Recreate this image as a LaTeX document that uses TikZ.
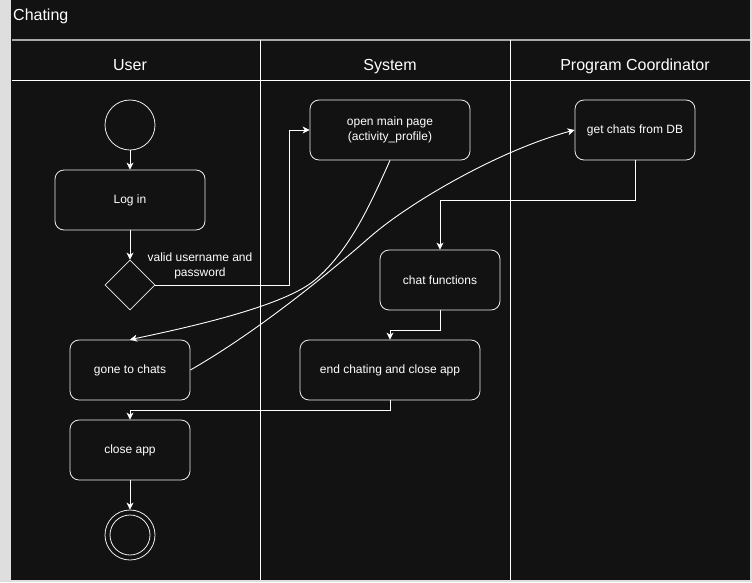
\documentclass[tikz,border=0pt]{standalone}
\usepackage{fontspec}
\setmainfont{Liberation Sans}
\usepackage{xcolor}
\usepackage{tikz}
\usetikzlibrary{arrows.meta,shapes.geometric}

\definecolor{canvas}{HTML}{121212}
\definecolor{margin}{HTML}{DEDEDE}
\definecolor{ink}{HTML}{EDEDED}
\definecolor{seam}{HTML}{A8A8A8}

\tikzset{
  actbox/.style={draw=ink,line width=0.8pt,rounded corners=9pt,text=white,
    minimum width=120pt,minimum height=60pt,align=center,
    font=\fontsize{12}{15}\selectfont},
  choice/.style={diamond,draw=ink,line width=0.8pt,
    minimum width=50pt,minimum height=50pt,inner sep=0pt},
  startdot/.style={circle,draw=ink,line width=0.8pt,
    minimum size=50pt,inner sep=0pt},
  flow/.style={draw=white,line width=0.9pt,
    -{Stealth[length=7pt,width=7pt,inset=2pt]}},
  lanehead/.style={anchor=base,text=white,font=\fontsize{16}{19}\selectfont},
  laneline/.style={draw=white,line width=0.8pt},
}

\begin{document}
\begin{tikzpicture}[x=1pt,y=-1pt]
      \useasboundingbox (0,0) rectangle (752,582);
      \fill[margin] (0,0) rectangle (752,582);
      \fill[canvas] (11,0) rectangle (750,580);
      % pool and lanes
      \node[anchor=base west,inner sep=0pt,text=white,
        font=\fontsize{16}{19}\selectfont] (title) at (13,20) {Chating};
      \draw[seam,line width=1.2pt] (12,40) -- (750,40);
      \draw[laneline] (12,80) -- (750,80);
      \draw[laneline] (260,40) -- (260,580);
      \draw[laneline] (510,40) -- (510,580);
      \node[lanehead] (huser) at (130,70) {User};
      \node[lanehead] (hsystem) at (390,70) {System};
      \node[lanehead] (hcoord) at (635,70) {Program Coordinator};
      % activities
      \node[startdot] (start) at (130,125) {};
      \node[actbox,minimum width=150pt] (login) at (130,200) {Log in};
      \node[choice] (valid) at (130,285) {};
      \node[text=white,align=center,font=\fontsize{12}{15}\selectfont]
        (validlbl) at (200,265.5) {valid username and\\password};
      \node[actbox,minimum width=160pt] (mainpage) at (390,130)
        {open main page\\(activity\_profile)};
      \node[actbox] (getchats) at (635,130) {get chats from DB};
      \node[actbox] (chatfn) at (440,280) {chat functions};
      \node[actbox] (gone) at (130,370) {gone to chats};
      \node[actbox,minimum width=180pt] (endchat) at (390,370)
        {end chating and close app};
      \node[actbox] (closeapp) at (130,450) {close app};
      \node[startdot] (finish) at (130,535) {};
      \node[startdot,minimum size=40pt] (finishcore) at (130,535) {};
      % flows
      \draw[flow] (start) -- (login);
      \draw[flow] (login) -- (valid);
      \draw[flow] (valid.east) -| ([xshift=-20pt]mainpage.west) -- (mainpage.west);
      \draw[flow] (mainpage.south)
        .. controls (370,205) and (350,250) .. (315,280)
        .. controls (285,305) and (200,325) .. (gone.north);
      \draw[flow] (gone.east)
        .. controls (260,330) and (330,272) .. (370,237)
        .. controls (410,202) and (500,150) .. (getchats.west);
      \draw[flow] (getchats.south) -- ++(0,40) -| (chatfn.north);
      \draw[flow] (chatfn.south) -- ++(0,20) -| (endchat.north);
      \draw[flow] (endchat.south) -- ++(0,10) -| (closeapp.north);
      \draw[flow] (closeapp) -- (finish);
    \end{tikzpicture}
\end{document}
